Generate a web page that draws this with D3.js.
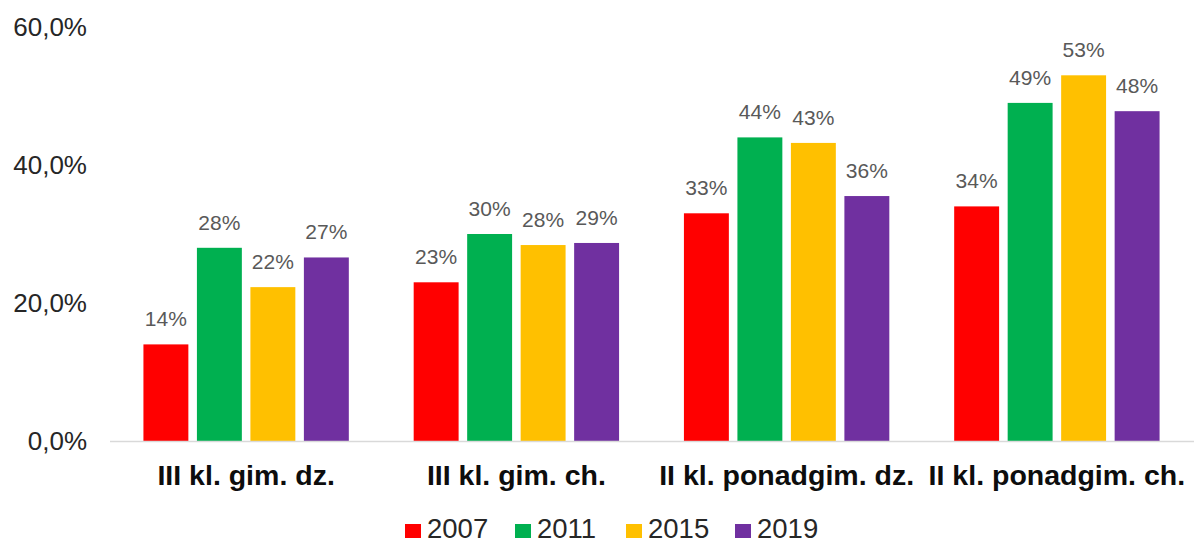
<!DOCTYPE html>
<html>
<head>
<meta charset="utf-8">
<script src="https://cdn.jsdelivr.net/npm/d3@7"></script>
<style>
  html, body { margin: 0; padding: 0; background: #fff; }
  svg { display: block; font-family: "Liberation Sans", Arial, sans-serif; }
</style>
</head>
<body>
<svg id="chart" width="1194" height="544"></svg>
<script>
const categories = ["III kl. gim. dz.", "III kl. gim. ch.", "II kl. ponadgim. dz.", "II kl. ponadgim. ch."];
const years = ["2007", "2011", "2015", "2019"];
const colors = ["#FF0000", "#00B050", "#FFC000", "#7030A0"];
const values2007 = [14, 23, 33, 34];
const values2011 = [28, 30, 44, 49];
const values2015 = [22.3, 28.4, 43.2, 53];
const values2019 = [26.6, 28.7, 35.5, 47.8];
const yTicks = [0, 20, 40, 60];
const yTickLabels = ["0,0%", "20,0%", "40,0%", "60,0%"];

const series = [values2007, values2011, values2015, values2019];

const svg = d3.select("#chart");
const margin = { left: 111, right: 2, top: 27, baseline: 441 };

const x0 = d3.scaleBand().domain(categories).range([margin.left, 1194 - margin.right])
  .paddingInner(0.24).paddingOuter(0.12);
const x1 = d3.scaleBand().domain(years).range([0, x0.bandwidth()])
  .paddingInner(0.16).paddingOuter(0);
const y = d3.scaleLinear().domain([0, 60]).range([margin.baseline, margin.top]);

// Y tick labels
svg.append("g").selectAll("text").data(yTicks).join("text")
  .attr("x", 87)
  .attr("y", d => y(d))
  .attr("dy", "0.36em")
  .attr("text-anchor", "end")
  .attr("font-size", 26)
  .attr("fill", "#262626")
  .text((d, i) => yTickLabels[i]);

// Bars
const groups = svg.append("g").selectAll("g").data(categories).join("g")
  .attr("transform", d => `translate(${x0(d)},0)`);

groups.each(function(cat, ci) {
  const g = d3.select(this);
  years.forEach((yr, si) => {
    const v = series[si][ci];
    g.append("rect")
      .attr("x", x1(yr))
      .attr("y", y(v))
      .attr("width", x1.bandwidth())
      .attr("height", y(0) - y(v))
      .attr("fill", colors[si]);
    g.append("text")
      .attr("x", x1(yr) + x1.bandwidth() / 2)
      .attr("y", y(v) - 18)
      .attr("text-anchor", "middle")
      .attr("font-size", 21)
      .attr("fill", "#595959")
      .text(Math.round(v) + "%");
  });
});

// Baseline axis line
svg.append("line")
  .attr("x1", margin.left - 1).attr("x2", 1194)
  .attr("y1", y(0) + 0.5).attr("y2", y(0) + 0.5)
  .attr("stroke", "#D9D9D9").attr("stroke-width", 1.5);

// Category labels
svg.append("g").selectAll("text").data(categories).join("text")
  .attr("x", d => x0(d) + x0.bandwidth() / 2)
  .attr("y", 485)
  .attr("text-anchor", "middle")
  .attr("font-size", 28.5)
  .attr("font-weight", "bold")
  .attr("fill", "#0D0D0D")
  .text(d => d);

// Legend
const legendX = [405, 515, 626, 735];
const lg = svg.append("g").selectAll("g").data(years).join("g")
  .attr("transform", (d, i) => `translate(${legendX[i]},0)`);
lg.append("rect")
  .attr("x", 0).attr("y", 524).attr("width", 16).attr("height", 14)
  .attr("fill", (d, i) => colors[i]);
lg.append("text")
  .attr("x", 22).attr("y", 538)
  .attr("font-size", 27.5)
  .attr("fill", "#262626")
  .text(d => d);
</script>
</body>
</html>
